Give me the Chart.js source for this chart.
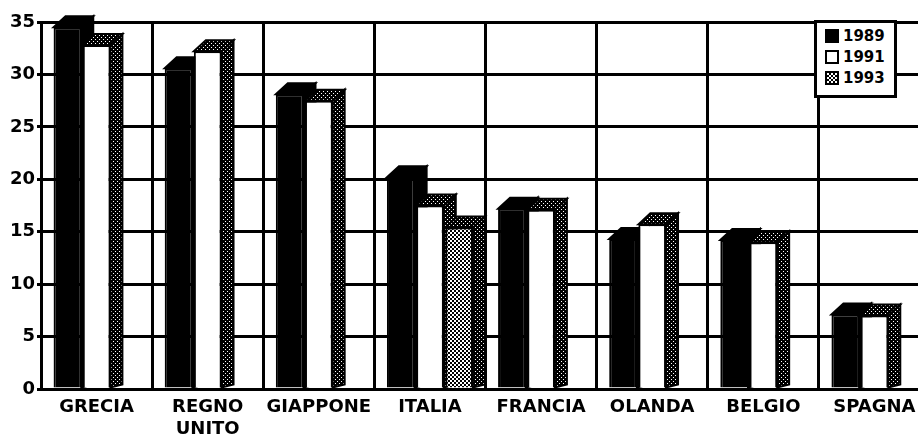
<!DOCTYPE html>
<html>
<head>
<meta charset="utf-8">
<script src="https://cdn.jsdelivr.net/npm/chart.js@4/dist/chart.umd.min.js"></script>
<style>
  body { margin: 0; background: #fff; overflow: hidden; }
  #wrap { position: relative; width: 934px; height: 440px; }
  #legend {
    position: absolute; left: 814px; top: 20px; width: 77px; height: 70px;
    background: #fff; border: 3px solid #000; padding: 2px 0 0 0;
    font: bold 15px "DejaVu Sans", sans-serif; color: #000;
  }
  #legend .item { display: flex; align-items: center; height: 21px; padding-left: 8px; }
  #legend .sw { width: 10px; height: 10px; border: 2px solid #000; margin-right: 4px; }
</style>
</head>
<body>
<div id="wrap">
  <canvas id="chart"></canvas>
  <div id="legend"></div>
</div>
<script>
// Categories and values
const categories = ['GRECIA', ['REGNO', 'UNITO'], 'GIAPPONE', 'ITALIA', 'FRANCIA', 'OLANDA', 'BELGIO', 'SPAGNA'];
const seriesLabels = ['1989', '1991', '1993'];
const values1989 = [34.5, 30.6, 28.1, 20.2, 17.2, 14.3, 14.2, 7.1];
const values1991 = [32.8, 32.2, 27.5, 17.5, 17.1, 15.7, 14.0, 7.0];
const values1993 = [null, null, null, 15.4, null, null, null, null];

// Small tiled patterns for the shaded faces
function makePattern(size, draw) {
    const c = document.createElement('canvas');
    c.width = size; c.height = size;
    draw(c.getContext('2d'));
    return c.getContext('2d').createPattern(c, 'repeat');
}
const darkDots = makePattern(4, g => {
    g.fillStyle = '#000'; g.fillRect(0, 0, 4, 4);
    g.fillStyle = '#fff'; g.fillRect(1, 1, 1, 1); g.fillRect(3, 3, 1, 1);
});
const checker = makePattern(4, g => {
    g.fillStyle = '#fff'; g.fillRect(0, 0, 4, 4);
    g.fillStyle = '#000'; g.fillRect(0, 0, 2, 2); g.fillRect(2, 2, 2, 2);
});

// Side and top faces drawn behind the front of every bar
const DX = 12, DY = 11;
const barDepth = {
    id: 'barDepth',
    beforeDatasetsDraw(chart) {
        const ctx = chart.ctx;
        ctx.save();
        chart.data.datasets.forEach((ds, i) => {
            const meta = chart.getDatasetMeta(i);
            meta.data.forEach((bar, j) => {
                if (ds.data[j] == null) return;
                const p = bar.getProps(['x', 'y', 'base', 'width'], true);
                const l = p.x - p.width / 2, r = p.x + p.width / 2;
                ctx.fillStyle = ds.depthColor;
                ctx.strokeStyle = '#000';
                ctx.lineWidth = 2;
                // right side
                ctx.beginPath();
                ctx.moveTo(r, p.y);
                ctx.lineTo(r + DX, p.y - DY);
                ctx.lineTo(r + DX, p.base - 3);
                ctx.lineTo(r, p.base);
                ctx.closePath();
                ctx.fill(); ctx.stroke();
                // top
                ctx.beginPath();
                ctx.moveTo(l, p.y);
                ctx.lineTo(l + DX, p.y - DY);
                ctx.lineTo(r + DX, p.y - DY);
                ctx.lineTo(r, p.y);
                ctx.closePath();
                ctx.fill(); ctx.stroke();
            });
        });
        ctx.restore();
    }
};

const fronts = ['#000', '#fff', checker];
const depths = ['#000', darkDots, darkDots];
const allValues = [values1989, values1991, values1993];

const datasets = seriesLabels.map((label, i) => ({
    label,
    data: allValues[i],
    backgroundColor: fronts[i],
    depthColor: depths[i],
    borderColor: '#000',
    borderWidth: 2,
    categoryPercentage: 0.787,
    barPercentage: 0.95
}));

const tickFont = { family: 'DejaVu Sans', weight: 'bold', size: 18 };

new Chart(document.getElementById('chart'), {
    type: 'bar',
    data: { labels: categories, datasets },
    options: {
        responsive: true,
        maintainAspectRatio: false,
        animation: false,
        layout: { padding: { top: 22, right: 4, left: 0, bottom: 0 } },
        plugins: { legend: { display: false }, tooltip: { enabled: false } },
        scales: {
            x: {
                grid: { color: '#000', lineWidth: 3, drawTicks: false, offset: true },
                border: { color: '#000', width: 3 },
                ticks: { color: '#000', font: tickFont, padding: 8, maxRotation: 0, autoSkip: false },
                afterFit: s => { s.height = 51; }
            },
            y: {
                min: 0, max: 35,
                grid: { color: '#000', lineWidth: 3, tickLength: 4 },
                border: { color: '#000', width: 3 },
                ticks: { stepSize: 5, color: '#000', font: tickFont, padding: 2 },
                afterFit: s => { s.width = 41; }
            }
        }
    },
    plugins: [barDepth]
});

// Legend box
const swatchBg = ['#000', '#fff', 'repeating-conic-gradient(#000 0 25%, #fff 0 50%) 0 0 / 4px 4px'];
const legend = document.getElementById('legend');
seriesLabels.forEach((label, i) => {
    const item = document.createElement('div');
    item.className = 'item';
    item.innerHTML = '<span class="sw" style="background:' + swatchBg[i] + '"></span>' + label;
    legend.appendChild(item);
});
</script>
</body>
</html>
